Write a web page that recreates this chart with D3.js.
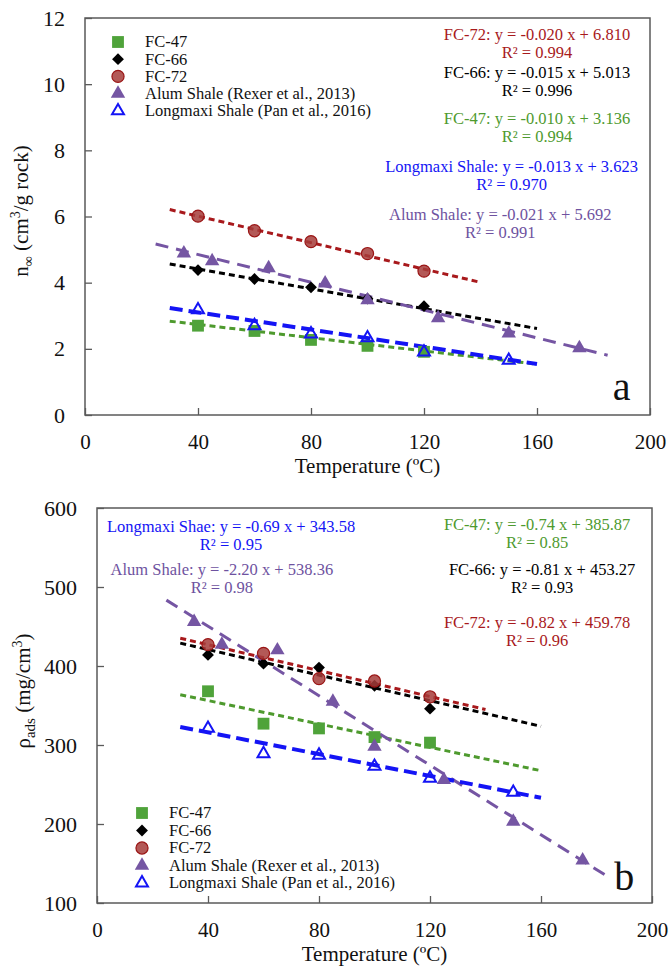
<!DOCTYPE html>
<html>
<head>
<meta charset="utf-8">
<script src="https://cdn.jsdelivr.net/npm/d3@7"></script>
<style>
  body { margin: 0; background: #fff; }
  svg { display: block; font-family: "Liberation Serif", "Times New Roman", serif; }
</style>
</head>
<body>
<div id="chart"></div>
<script>
// temperatures (ºC)
const tempFC = [40, 60, 80, 100, 120];
const tempAlum = [35, 45, 65, 85, 100, 125, 150, 175];
const tempLongmaxi = [40, 60, 80, 100, 120, 150];

// panel a: n∞ (cm3/g rock)
const nFC47 = [2.70, 2.54, 2.27, 2.09, 1.91];
const nFC66 = [4.38, 4.11, 3.86, 3.52, 3.29];
const nFC72 = [6.01, 5.57, 5.24, 4.88, 4.35];
const nAlum = [4.89, 4.65, 4.44, 3.98, 3.47, 2.93, 2.47, 2.02];
const nLongmaxi = [3.18, 2.70, 2.45, 2.33, 1.90, 1.65];

// panel b: ρads (mg/cm3)
const rhoFC47 = [368, 327, 321, 310, 303];
const rhoFC66 = [414, 403, 398, 375, 346];
const rhoFC72 = [427, 416, 384, 381, 361];
const rhoAlum = [456, 427, 420, 355, 298, 256, 203, 154];
const rhoLongmaxi = [321, 289, 287, 273, 258, 240];

// linear fits [slope, intercept]
const fitA = { fc47: [-0.010, 3.136], fc66: [-0.015, 5.013], fc72: [-0.020, 6.810], alum: [-0.021, 5.692], longmaxi: [-0.013, 3.623] };
const fitB = { fc47: [-0.74, 385.87], fc66: [-0.81, 453.27], fc72: [-0.82, 459.78], alum: [-2.20, 538.36], longmaxi: [-0.69, 343.58] };
// temperature span of each fit line
const fitSpan = { fc47: [30, 160], fc66: [30, 160], fc72: [30, 140], alum: [25, 185], longmaxi: [30, 160] };

const xTicks = [0, 40, 80, 120, 160, 200];
const yTicksA = [0, 2, 4, 6, 8, 10, 12];
const yTicksB = [100, 200, 300, 400, 500, 600];

const legendLabels = ['FC-47', 'FC-66', 'FC-72', 'Alum Shale (Rexer et al., 2013)', 'Longmaxi Shale (Pan et al., 2016)'];

const series = {
  fc47: { color: '#4E9A2E', fill: '#4FA33A', sym: d3.symbolSquare, size: 140, rot: 0, dash: '6,4', lw: 3 },
  fc66: { color: '#000000', fill: '#000000', sym: d3.symbolSquare, size: 70, rot: 45, dash: '6,4', lw: 3 },
  fc72: { color: '#A8191C', fill: '#A63C3A', sym: d3.symbolCircle, size: 115, rot: 0, dash: '6,4', lw: 3 },
  alum: { color: '#7555A3', fill: '#7556A3', sym: d3.symbolTriangle, size: 90, rot: 0, dash: '13,8', lw: 3 },
  longmaxi: { color: '#1414F5', fill: 'none', sym: d3.symbolTriangle, size: 62, rot: 0, dash: '13,6', lw: 4 },
};
const order = ['fc47', 'fc66', 'fc72', 'alum', 'longmaxi'];

const width = 671, height = 966;
const svg = d3.select('#chart').append('svg')
  .attr('width', width).attr('height', height);

function styleMarker(sel, k) {
  const s = series[k];
  sel.attr('d', d3.symbol().type(s.sym).size(s.size))
    .attr('fill', s.fill)
    .attr('fill-opacity', k === 'fc72' ? 0.85 : 1)
    .attr('stroke', k === 'longmaxi' ? s.color : (k === 'fc72' ? '#9A1515' : 'none'))
    .attr('stroke-width', k === 'longmaxi' ? 2 : 1.2);
}

function drawPanel(p) {
  const x = d3.scaleLinear().domain([0, 200]).range([p.left, p.right]);
  const y = d3.scaleLinear().domain(p.yDomain).range([p.bottom, p.top]);
  const g = svg.append('g');

  // frame
  g.append('rect')
    .attr('x', p.left).attr('y', p.top)
    .attr('width', p.right - p.left).attr('height', p.bottom - p.top)
    .attr('fill', 'none').attr('stroke', '#5a5a5a').attr('stroke-width', 1.5);

  // axes, ticks inward
  const xAxis = g.append('g').attr('transform', `translate(0,${p.bottom})`)
    .call(d3.axisBottom(x).tickValues(xTicks).tickSizeInner(-7).tickSizeOuter(0).tickPadding(18));
  const yAxis = g.append('g').attr('transform', `translate(${p.left},0)`)
    .call(d3.axisLeft(y).tickValues(p.yTicks).tickSizeInner(-7).tickSizeOuter(0).tickPadding(20));
  [xAxis, yAxis].forEach(a => {
    a.select('.domain').remove();
    a.selectAll('line').attr('stroke', '#5a5a5a').attr('stroke-width', 1.3);
    a.selectAll('text').attr('font-family', '"Liberation Serif", serif')
      .attr('font-size', 21).attr('fill', '#111');
  });
  xAxis.selectAll('text').attr('dy', '0.75em');
  yAxis.selectAll('text').attr('font-size', 22);

  // fit lines
  order.forEach(k => {
    const [m, b] = p.fit[k];
    const s = series[k];
    g.append('line')
      .attr('x1', x(fitSpan[k][0])).attr('y1', y(m * fitSpan[k][0] + b))
      .attr('x2', x(fitSpan[k][1])).attr('y2', y(m * fitSpan[k][1] + b))
      .attr('stroke', s.color).attr('stroke-width', s.lw)
      .attr('stroke-dasharray', s.dash);
  });

  // markers
  const drawMarkers = (k, xs, ys) => {
    g.append('g').selectAll('path')
      .data(xs.map((t, i) => [t, ys[i]]))
      .join('path')
      .attr('transform', d => `translate(${x(d[0])},${y(d[1])}) rotate(${series[k].rot})`)
      .call(styleMarker, k);
  };
  drawMarkers('fc47', tempFC, p.vals.fc47);
  drawMarkers('fc66', tempFC, p.vals.fc66);
  drawMarkers('fc72', tempFC, p.vals.fc72);
  drawMarkers('alum', tempAlum, p.vals.alum);
  drawMarkers('longmaxi', tempLongmaxi, p.vals.longmaxi);

  // legend
  const lg = g.append('g');
  order.forEach((k, i) => {
    const ly = p.legend.y + i * p.legend.step;
    lg.append('path')
      .attr('transform', `translate(${p.legend.x},${ly}) rotate(${series[k].rot})`)
      .call(styleMarker, k);
    lg.append('text')
      .attr('x', p.legend.x + 27).attr('y', ly)
      .attr('dy', '0.33em')
      .attr('font-size', 16.5).attr('fill', '#111')
      .text(legendLabels[i]);
  });

  // equation annotations
  p.notes.forEach(n => {
    const c = series[n.key].color;
    const t = g.append('text')
      .attr('x', x(n.t)).attr('y', y(n.v))
      .attr('text-anchor', 'middle').attr('dy', '0.33em')
      .attr('font-size', 16.5).attr('fill', n.key === 'alum' ? '#6E52A0' : c);
    t.append('tspan').attr('x', x(n.t)).text(n.eq);
    t.append('tspan').attr('x', x(n.t)).attr('dy', 18).text(n.r2);
  });

  // panel letter
  g.append('text')
    .attr('x', x(p.letterAt[0])).attr('y', y(p.letterAt[1]))
    .attr('text-anchor', 'middle')
    .attr('font-size', 40).attr('fill', '#111')
    .text(p.letter);

  // axis titles
  g.append('text')
    .attr('x', (p.left + p.right) / 2).attr('y', p.bottom + p.xTitleDy)
    .attr('text-anchor', 'middle')
    .attr('font-size', 21).attr('fill', '#111')
    .text('Temperature (ºC)');

  const yt = g.append('text')
    .attr('transform', `translate(${p.yTitleX},${p.yTitleY}) rotate(-90)`)
    .attr('text-anchor', 'middle')
    .attr('font-size', 21).attr('fill', '#111');
  p.yTitle(yt);
}

drawPanel({
  left: 85, right: 650, top: 18, bottom: 415,
  yDomain: [0, 12], yTicks: yTicksA,
  xTitleDy: 58,
  vals: { fc47: nFC47, fc66: nFC66, fc72: nFC72, alum: nAlum, longmaxi: nLongmaxi },
  fit: fitA,
  legend: { x: 118, y: 42, step: 17.2 },
  notes: [
    { key: 'fc72', t: 160, v: 11.49, eq: 'FC-72: y = -0.020 x + 6.810', r2: 'R² = 0.994' },
    { key: 'fc66', t: 160, v: 10.34, eq: 'FC-66: y = -0.015 x + 5.013', r2: 'R² = 0.996' },
    { key: 'fc47', t: 160, v: 8.95, eq: 'FC-47: y = -0.010 x + 3.136', r2: 'R² = 0.994' },
    { key: 'longmaxi', t: 151, v: 7.50, eq: 'Longmaxi  Shale: y = -0.013 x + 3.623', r2: 'R² = 0.970' },
    { key: 'alum', t: 147, v: 6.05, eq: 'Alum  Shale: y = -0.021 x + 5.692', r2: 'R² = 0.991' },
  ],
  letter: 'a', letterAt: [190, 0.45],
  yTitleX: 28, yTitleY: 211,
  yTitle: t => {
    t.append('tspan').text('n');
    t.append('tspan').attr('font-size', 14).attr('dy', 5).text('∞');
    t.append('tspan').attr('dy', -5).text(' (cm');
    t.append('tspan').attr('font-size', 14).attr('dy', -8).text('3');
    t.append('tspan').attr('dy', 8).text('/g rock)');
  },
});

drawPanel({
  left: 97, right: 652, top: 508, bottom: 903,
  yDomain: [100, 600], yTicks: yTicksB,
  xTitleDy: 58,
  vals: { fc47: rhoFC47, fc66: rhoFC66, fc72: rhoFC72, alum: rhoAlum, longmaxi: rhoLongmaxi },
  fit: fitB,
  legend: { x: 142, y: 813, step: 17.5 },
  notes: [
    { key: 'longmaxi', t: 48.3, v: 576, eq: 'Longmaxi  Shae: y = -0.69 x + 343.58', r2: 'R² = 0.95' },
    { key: 'alum', t: 45, v: 521.5, eq: 'Alum  Shale: y = -2.20 x + 538.36', r2: 'R² = 0.98' },
    { key: 'fc47', t: 158.6, v: 578.5, eq: 'FC-47: y = -0.74 x + 385.87', r2: 'R² = 0.85' },
    { key: 'fc66', t: 160.4, v: 521.5, eq: 'FC-66: y = -0.81 x + 453.27', r2: 'R² = 0.93' },
    { key: 'fc72', t: 158.6, v: 454.4, eq: 'FC-72: y = -0.82 x + 459.78', r2: 'R² = 0.96' },
  ],
  letter: 'b', letterAt: [190, 117],
  yTitleX: 30, yTitleY: 691,
  yTitle: t => {
    t.append('tspan').text('ρ');
    t.append('tspan').attr('font-size', 15).attr('dy', 5).text('ads');
    t.append('tspan').attr('dy', -5).text(' (mg/cm');
    t.append('tspan').attr('font-size', 14).attr('dy', -8).text('3');
    t.append('tspan').attr('dy', 8).text(')');
  },
});
</script>
</body>
</html>
